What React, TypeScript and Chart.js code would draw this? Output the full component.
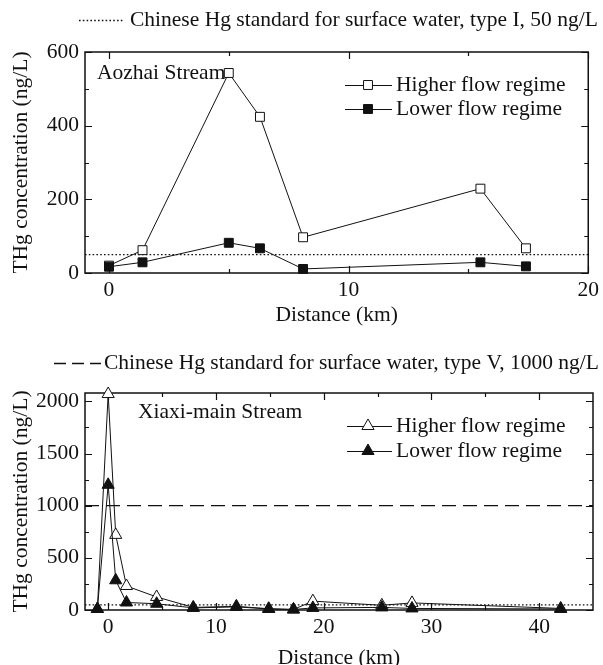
import React, { useEffect, useRef } from "react";
import { Chart, registerables } from "chart.js";

Chart.register(...registerables);

const FONT = "'Liberation Serif', 'Times New Roman', serif";
const INK = "#111111";
const FS = 21.5;

// ---- Aozhai Stream (top panel) ----
const aozhaiDistance = [0, 1.4, 5.0, 6.3, 8.1, 15.5, 17.4];
const aozhaiHigher = [20, 62, 543, 424, 97, 229, 67];
const aozhaiLower = [17, 29, 82, 67, 11, 29, 18];
const aozhaiXTicks = [0, 10, 20];
const aozhaiXMinor = [5, 15];
const aozhaiYTicks = [0, 200, 400, 600];
const aozhaiYMinor = [100, 300, 500];
const typeIStandard = 50;

// ---- Xiaxi-main Stream (bottom panel) ----
const xiaxiDistance = [-1.0, 0, 0.7, 1.7, 4.5, 7.9, 11.9, 14.9, 17.2, 19.0, 25.4, 28.2, 42.0];
const xiaxiHigher = [10, 2070, 720, 230, 125, 25, 35, 12, 5, 85, 45, 68, 15];
const xiaxiLower = [10, 1200, 285, 72, 60, 20, 30, 10, 5, 20, 25, 15, 10];
const xiaxiXTicks = [0, 10, 20, 30, 40];
const xiaxiXMinor = [5, 15, 25, 35];
const xiaxiYTicks = [0, 500, 1000, 1500, 2000];
const xiaxiYMinor = [250, 750, 1250, 1750];
const typeVStandard = 1000;

const seriesNames = ["Higher flow regime", "Lower flow regime"];
const xTitle = "Distance (km)";
const yTitle = "THg concentration (ng/L)";

type Spec = {
  top: number;
  height: number;
  areaTop: number;
  areaBottom: number;
  xMin: number;
  xMax: number;
  yMin: number;
  yMax: number;
  xTicks: number[];
  xMinor: number[];
  yTicks: number[];
  yMinor: number[];
  distance: number[];
  higher: number[];
  lower: number[];
  marker: "rect" | "triangle";
  radius: number;
  refs: { value: number; dash: number[]; width: number }[];
  header: { text: string; dash: number[]; x0: number; x1: number; tx: number; y: number };
  label: { text: string; x: number; y: number };
  legend: { x0: number; x1: number; mx: number; tx: number; y1: number; y2: number };
  xTitlePad: number;
};

const specs: Spec[] = [
  {
    top: 0,
    height: 330,
    areaTop: 52,
    areaBottom: 273,
    xMin: -1,
    xMax: 20,
    yMin: 0,
    yMax: 600,
    xTicks: aozhaiXTicks,
    xMinor: aozhaiXMinor,
    yTicks: aozhaiYTicks,
    yMinor: aozhaiYMinor,
    distance: aozhaiDistance,
    higher: aozhaiHigher,
    lower: aozhaiLower,
    marker: "rect",
    radius: 6.3,
    refs: [{ value: typeIStandard, dash: [1.6, 2.2], width: 1.3 }],
    header: {
      text: "Chinese Hg standard for surface water, type I, 50 ng/L",
      dash: [1.6, 2.2],
      x0: 79,
      x1: 124,
      tx: 130,
      y: 20,
    },
    label: { text: "Aozhai Stream", x: 97, y: 73 },
    legend: { x0: 345, x1: 392, mx: 368, tx: 396, y1: 85, y2: 109 },
    xTitlePad: 2,
  },
  {
    top: 330,
    height: 342,
    areaTop: 63,
    areaBottom: 280,
    xMin: -2.15,
    xMax: 45,
    yMin: 0,
    yMax: 2080,
    xTicks: xiaxiXTicks,
    xMinor: xiaxiXMinor,
    yTicks: xiaxiYTicks,
    yMinor: xiaxiYMinor,
    distance: xiaxiDistance,
    higher: xiaxiHigher,
    lower: xiaxiLower,
    marker: "triangle",
    radius: 7,
    refs: [
      { value: typeIStandard, dash: [1.6, 2.2], width: 1.3 },
      { value: typeVStandard, dash: [14, 7], width: 1.3 },
    ],
    header: {
      text: "Chinese Hg standard for surface water, type V, 1000 ng/L",
      dash: [12, 6],
      x0: 54,
      x1: 101,
      tx: 104,
      y: 33,
    },
    label: { text: "Xiaxi-main Stream", x: 138, y: 82 },
    legend: { x0: 347, x1: 392, mx: 368, tx: 396, y1: 96, y2: 121 },
    xTitlePad: 1,
  },
];

function drawMarker(ctx: CanvasRenderingContext2D, kind: string, x: number, y: number, r: number, filled: boolean) {
  ctx.beginPath();
  if (kind === "rect") {
    const s = Math.SQRT1_2 * r;
    ctx.rect(x - s, y - s, 2 * s, 2 * s);
  } else {
    ctx.moveTo(x, y - r);
    ctx.lineTo(x + 0.866 * r, y + 0.5 * r);
    ctx.lineTo(x - 0.866 * r, y + 0.5 * r);
    ctx.closePath();
  }
  ctx.fillStyle = filled ? INK : "#ffffff";
  ctx.fill();
  ctx.lineWidth = 1;
  ctx.strokeStyle = INK;
  ctx.stroke();
}

function makePlugin(spec: Spec) {
  return {
    id: "frame",
    beforeDatasetsDraw(chart: any) {
      const { ctx, chartArea: a, scales } = chart;
      ctx.save();
      ctx.strokeStyle = INK;
      ctx.lineWidth = 1.2;
      const xs = scales.x;
      const ys = scales.y;
      const vline = (v: number, len: number) => {
        const px = Math.round(xs.getPixelForValue(v)) + 0.5;
        ctx.beginPath();
        ctx.moveTo(px, a.bottom);
        ctx.lineTo(px, a.bottom - len);
        ctx.moveTo(px, a.top);
        ctx.lineTo(px, a.top + len);
        ctx.stroke();
      };
      const hline = (v: number, len: number) => {
        const py = Math.round(ys.getPixelForValue(v)) + 0.5;
        ctx.beginPath();
        ctx.moveTo(a.left, py);
        ctx.lineTo(a.left + len, py);
        ctx.moveTo(a.right, py);
        ctx.lineTo(a.right - len, py);
        ctx.stroke();
      };
      spec.xTicks.forEach((v) => vline(v, 7));
      spec.xMinor.forEach((v) => vline(v, 4));
      spec.yTicks.forEach((v) => hline(v, 7));
      spec.yMinor.forEach((v) => hline(v, 4));
      ctx.lineWidth = 1.5;
      ctx.strokeRect(a.left, a.top, a.right - a.left, a.bottom - a.top);
      ctx.restore();
    },
    afterDraw(chart: any) {
      const { ctx } = chart;
      ctx.save();
      ctx.font = `${FS}px ${FONT}`;
      ctx.fillStyle = INK;
      ctx.textBaseline = "middle";
      ctx.textAlign = "left";
      // header legend for the standard line
      const h = spec.header;
      ctx.strokeStyle = INK;
      ctx.lineWidth = 1.3;
      ctx.setLineDash(h.dash);
      ctx.beginPath();
      ctx.moveTo(h.x0, h.y + 0.5);
      ctx.lineTo(h.x1, h.y + 0.5);
      ctx.stroke();
      ctx.setLineDash([]);
      ctx.fillText(h.text, h.tx, h.y);
      // stream label
      ctx.fillText(spec.label.text, spec.label.x, spec.label.y);
      // in-plot legend
      const L = spec.legend;
      [L.y1, L.y2].forEach((y, i) => {
        ctx.strokeStyle = INK;
        ctx.lineWidth = 1;
        ctx.beginPath();
        ctx.moveTo(L.x0, y + 0.5);
        ctx.lineTo(L.x1, y + 0.5);
        ctx.stroke();
        drawMarker(ctx, spec.marker, L.mx, y, spec.radius, i === 1);
        ctx.fillStyle = INK;
        ctx.fillText(seriesNames[i], L.tx, y);
      });
      ctx.restore();
    },
  };
}

function buildConfig(spec: Spec): any {
  const pts = (vals: number[]) => spec.distance.map((x, i) => ({ x, y: vals[i] }));
  const series = (name: string, vals: number[], filled: boolean) => ({
    label: name,
    data: pts(vals),
    borderColor: INK,
    borderWidth: 1,
    backgroundColor: filled ? INK : "#ffffff",
    pointStyle: spec.marker,
    pointRadius: spec.radius,
    pointHoverRadius: spec.radius,
    pointBorderColor: INK,
    pointBackgroundColor: filled ? INK : "#ffffff",
    pointBorderWidth: 1,
    tension: 0,
    fill: false,
    clip: false,
  });
  const refSets = spec.refs.map((r) => ({
    label: "ref" + r.value,
    data: [
      { x: spec.xMin, y: r.value },
      { x: spec.xMax, y: r.value },
    ],
    borderColor: INK,
    borderWidth: r.width,
    borderDash: r.dash,
    pointRadius: 0,
    tension: 0,
    fill: false,
  }));
  const tickFont = { family: FONT, size: FS };
  return {
    type: "line",
    data: {
      datasets: [series(seriesNames[1], spec.lower, true), series(seriesNames[0], spec.higher, false), ...refSets],
    },
    options: {
      responsive: false,
      animation: false,
      devicePixelRatio: 1,
      layout: { padding: { top: spec.areaTop, right: 10, left: 0, bottom: 0 } },
      plugins: { legend: { display: false }, tooltip: { enabled: false } },
      scales: {
        x: {
          type: "linear",
          min: spec.xMin,
          max: spec.xMax,
          grid: { display: false, drawTicks: false },
          border: { display: false },
          afterBuildTicks: (s: any) => {
            s.ticks = spec.xTicks.map((v) => ({ value: v }));
          },
          afterFit: (s: any) => {
            s.height = spec.height - spec.areaBottom;
          },
          ticks: {
            font: tickFont,
            color: INK,
            padding: 4,
            maxRotation: 0,
            autoSkip: false,
            callback: (v: any) => String(v),
          },
          title: {
            display: true,
            text: xTitle,
            font: tickFont,
            color: INK,
            padding: { top: 0, bottom: spec.xTitlePad },
          },
        },
        y: {
          type: "linear",
          min: spec.yMin,
          max: spec.yMax,
          grid: { display: false, drawTicks: false },
          border: { display: false },
          afterBuildTicks: (s: any) => {
            s.ticks = spec.yTicks.map((v) => ({ value: v }));
          },
          afterFit: (s: any) => {
            s.width = 85;
          },
          ticks: {
            font: tickFont,
            color: INK,
            padding: 6,
            autoSkip: false,
            callback: (v: any) => String(v),
          },
          title: {
            display: true,
            text: yTitle,
            font: tickFont,
            color: INK,
            padding: { top: 8, bottom: 0 },
          },
        },
      },
    },
    plugins: [makePlugin(spec)],
  };
}

function Panel({ spec }: { spec: Spec }) {
  const ref = useRef<HTMLCanvasElement | null>(null);
  useEffect(() => {
    if (!ref.current) return;
    const chart = new Chart(ref.current, buildConfig(spec));
    return () => chart.destroy();
  }, [spec]);
  return (
    <canvas
      ref={ref}
      width={603}
      height={spec.height}
      style={{ position: "absolute", left: 0, top: spec.top, width: 603, height: spec.height, display: "block" }}
    />
  );
}

export default function App() {
  return (
    <div
      style={{
        position: "absolute",
        left: 0,
        top: 0,
        width: 603,
        height: 665,
        overflow: "hidden",
        background: "#ffffff",
      }}
    >
      {specs.map((s, i) => (
        <Panel key={i} spec={s} />
      ))}
    </div>
  );
}
